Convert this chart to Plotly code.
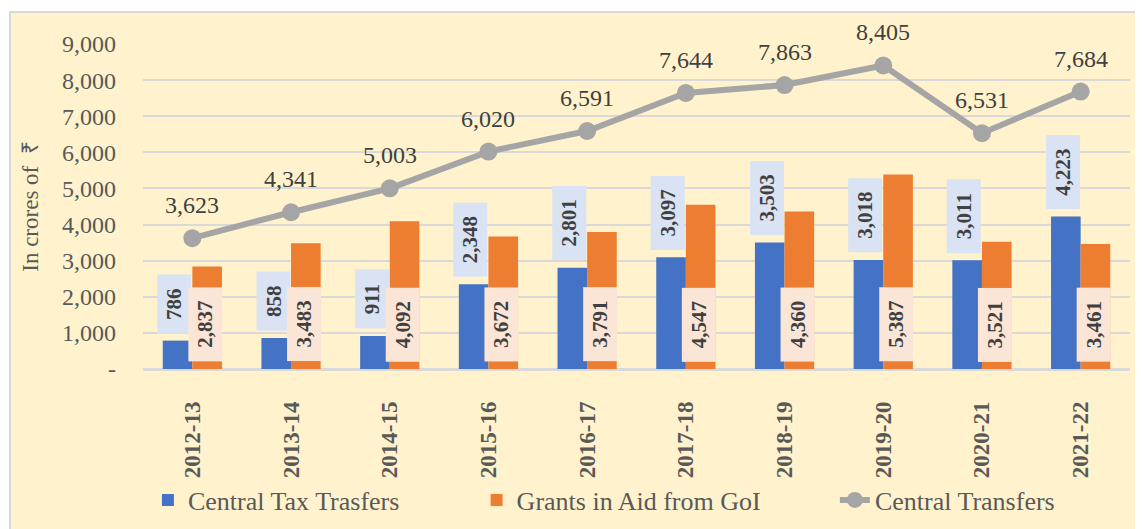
import plotly.graph_objects as go

years = ["2012-13", "2013-14", "2014-15", "2015-16", "2016-17",
         "2017-18", "2018-19", "2019-20", "2020-21", "2021-22"]
central_tax = [786, 858, 911, 2348, 2801, 3097, 3503, 3018, 3011, 4223]
grants_aid = [2837, 3483, 4092, 3672, 3791, 4547, 4360, 5387, 3521, 3461]
central_transfers = [3623, 4341, 5003, 6020, 6591, 7644, 7863, 8405, 6531, 7684]
y_ticks = [0, 1000, 2000, 3000, 4000, 5000, 6000, 7000, 8000, 9000]
y_tick_text = ["-", "1,000", "2,000", "3,000", "4,000", "5,000",
               "6,000", "7,000", "8,000", "9,000"]

SERIF = "Liberation Serif, Times New Roman, serif"
TXT = "#404040"
AX = "#595959"
BLUE = "#4472C4"
ORANGE = "#ED7D31"
GRAY = "#A5A5A5"

fig = go.Figure()
fig.add_trace(go.Bar(x=years, y=central_tax, name="Central Tax Trasfers",
                     legend="legend",
                     marker=dict(color=BLUE, line=dict(width=0))))
fig.add_trace(go.Bar(x=years, y=grants_aid, name="Grants in Aid from GoI",
                     legend="legend2",
                     marker=dict(color=ORANGE, line=dict(width=0))))
fig.add_trace(go.Scatter(x=years, y=central_transfers, name="Central Transfers",
                         legend="legend3",
                         mode="lines+markers",
                         line=dict(color=GRAY, width=6),
                         marker=dict(color=GRAY, size=18)))


def fmt(v):
    return f"{v:,}"


def box_len(s, fs=21):
    n_d = sum(c.isdigit() for c in s)
    n_c = s.count(",")
    return n_d * fs * 0.5 + n_c * fs * 0.25 + 24


annotations = []
for yr, v in zip(years, central_tax):
    s = fmt(v)
    annotations.append(dict(
        x=yr, y=v, xref="x", yref="y", text=f"<b>{s}</b>", showarrow=False,
        textangle=-90, xanchor="center", yanchor="bottom", xshift=-18, yshift=7,
        bgcolor="#DAE3F3", borderpad=1, width=box_len(s), height=31,
        font=dict(family=SERIF, size=21, color=TXT)))
for yr, v in zip(years, grants_aid):
    s = fmt(v)
    annotations.append(dict(
        x=yr, y=0, xref="x", yref="y", text=f"<b>{s}</b>", showarrow=False,
        textangle=-90, xanchor="center", yanchor="bottom", xshift=13, yshift=7,
        bgcolor="#FBE5D6", borderpad=1, width=box_len(s), height=31,
        font=dict(family=SERIF, size=21, color=TXT)))
for yr, v in zip(years, central_transfers):
    annotations.append(dict(
        x=yr, y=v, xref="x", yref="y", text=fmt(v), showarrow=False,
        xanchor="center", yanchor="middle", yshift=33,
        font=dict(family=SERIF, size=24, color=TXT)))


def leg(x):
    return dict(orientation="h", x=x, y=-0.403, xanchor="left", yanchor="middle",
                font=dict(family=SERIF, size=26, color=AX),
                bgcolor="rgba(0,0,0,0)")


fig.update_layout(
    width=1143, height=529,
    margin=dict(l=135, r=21, t=36, b=168, autoexpand=False),
    paper_bgcolor="white",
    plot_bgcolor="rgba(0,0,0,0)",
    barmode="group", bargap=0.4, bargroupgap=0,
    font=dict(family=SERIF, color=AX),
    showlegend=True,
    legend=leg(0.005),
    legend2=leg(0.338),
    legend3=leg(0.701),
    annotations=annotations,
    shapes=[dict(type="rect", xref="paper", yref="paper",
                 x0=-0.1348, x1=1.05, y0=-0.6, y1=1.0985,
                 fillcolor="#FFF2CC", line=dict(color="#D9D9D9", width=2),
                 layer="below")],
)
fig.update_xaxes(type="category", range=[-0.5, 9.5], tickangle=-90, showgrid=False,
                 automargin=False,
                 tickfont=dict(family=SERIF, size=23, color=AX, weight="bold"),
                 ticklabelstandoff=27, showline=False, zeroline=False)
fig.update_yaxes(range=[0, 9000], tickvals=y_ticks, ticktext=y_tick_text,
                 showgrid=True, gridcolor="#D9D9D9", gridwidth=2, automargin=False,
                 zeroline=True, zerolinecolor="#D9D9D9", zerolinewidth=3,
                 tickfont=dict(family=SERIF, size=24, color=AX),
                 ticklabelstandoff=26,
                 title=dict(text="In crores of  ₹", standoff=16,
                            font=dict(family=SERIF, size=23, color=AX)))

fig.write_html("out.html")
